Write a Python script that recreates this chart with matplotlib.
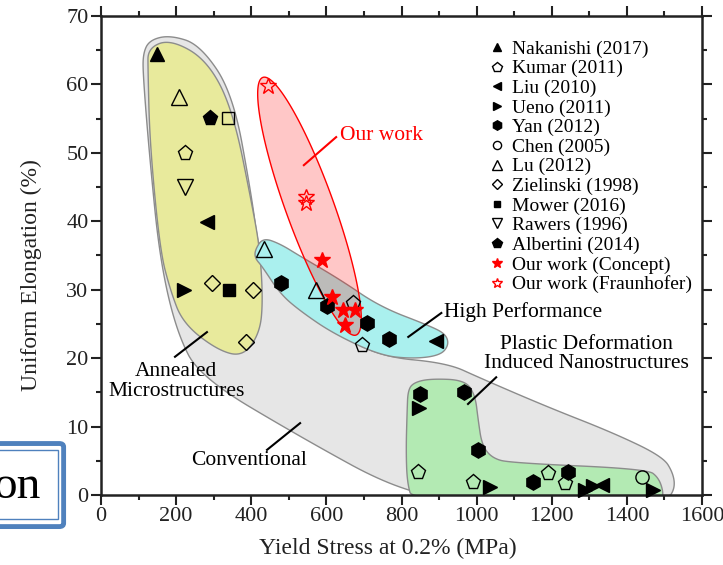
import numpy as np
import matplotlib
matplotlib.use('Agg')
import matplotlib.pyplot as plt
from matplotlib.patches import Polygon, FancyBboxPatch

plt.rcParams['font.family'] = ['Liberation Serif', 'DejaVu Serif']

# data points (yield stress MPa, uniform elongation %)
nakanishi = [(150, 64.5)]
kumar = [(224, 50.0), (671, 28.0), (695, 21.9), (843, 3.3), (991, 1.9), (1191, 3.2), (1235, 1.8)]
liu = [(282, 39.9), (893, 22.5), (1335, 1.5)]
ueno = [(221, 30.0), (847, 12.7), (1036, 1.1), (1289, 0.7), (1310, 1.3), (1470, 0.7)]
yan = [(479, 31.0), (602, 27.6), (709, 25.2), (768, 22.8), (849, 14.8), (967, 15.0), (1004, 6.6), (1150, 1.9), (1242, 3.4)]
chen = [(1440, 2.7)]
lu = [(208, 58.2), (434, 36.0), (572, 30.0)]
zielinski = [(296, 31.0), (405, 30.0), (386, 22.4)]
mower = [(341, 30.0)]
unlisted_square = [(338, 55.1)]
rawers = [(224, 45.0)]
albertini = [(290, 55.1)]
concept = [(588, 34.4), (614, 29.0), (645, 27.0), (675, 27.0), (650, 24.9)]
fraunhofer = [(444, 59.7), (545, 43.6), (545, 42.6)]

# region outlines (data coords, smoothed later)
conventional = [(112, 64.6), (130, 66.5), (184, 67.2), (264, 65.8), (351, 58.7), (400, 44), (418, 36.5),
                (437, 34.0), (530, 27.5), (618, 24.0), (743, 20.2), (921, 19.3), (1009, 17.1), (1187, 12.9),
                (1363, 9.1), (1496, 5.6), (1523, 3.2), (1528, 1.0), (1507, -0.8), (1000, -1.0), (796, 0.5),
                (530, 8.5), (264, 17.2), (202, 23.7), (157, 34.3), (130, 49), (112, 61.3)]
annealed = [(125, 65.3), (184, 66.6), (282, 63.6), (351, 56.3), (405, 41.6), (423, 35.8), (431, 28.5),
            (423, 23.7), (378, 20.2), (309, 21.2), (218, 25.1), (184, 30.0), (157, 35.8), (130, 51.4), (125, 62.1)]
high_perf = [(410, 35.8), (431, 37.6), (477, 36.7), (530, 34.9), (636, 31.5), (743, 27.5), (876, 24.7),
             (918, 23.5), (926, 21.9), (903, 20.4), (831, 19.9), (743, 20.4), (618, 23.6), (530, 26.9),
             (477, 29.4), (429, 33.4), (410, 34.6)]
plastic = [(831, 16.4), (876, 17.0), (969, 16.8), (996, 14.6), (1004, 11.0), (1014, 7.3), (1041, 5.4),
           (1089, 4.7), (1454, 3.8), (1485, 2.5), (1498, 0.2), (1490, -1.0), (830, -1.0), (815, 1.8),
           (812, 6.6), (815, 12.4), (817, 15.2)]


def chaikin(pts, n=4):
    p = np.asarray(pts, float)
    for _ in range(n):
        q = np.roll(p, -1, axis=0)
        p = np.column_stack([0.75 * p + 0.25 * q, 0.25 * p + 0.75 * q]).reshape(-1, 2)
    return p


fig = plt.figure(figsize=(7.23, 5.65), dpi=100)
ax = fig.add_axes([0.1397, 0.1239, 0.8313, 0.8478])
ax.set_xlim(0, 1600)
ax.set_ylim(0, 70)

edge = '#8c8c8c'
ax.add_patch(Polygon(chaikin(conventional), closed=True, fc='#e6e6e6', ec=edge, lw=1.0, zorder=1))
ax.add_patch(Polygon(chaikin(annealed), closed=True, fc='#e8ea9c', ec=edge, lw=1.0, zorder=2))
ax.add_patch(Polygon(chaikin(high_perf), closed=True, fc='#aaf0ee', ec=edge, lw=1.0, zorder=2))
ax.add_patch(Polygon(chaikin(plastic), closed=True, fc='#b3eab3', ec=edge, lw=1.0, zorder=2))

# "Our work" ellipse, built in display space so it stays a true ellipse
c = ax.transData.transform((555, 42.2))
t = np.linspace(0, 2 * np.pi, 200)
ang = np.deg2rad(109.9)
u, v = 137 * np.cos(t), 24 * np.sin(t)
xy = np.column_stack([c[0] + u * np.cos(ang) - v * np.sin(ang), c[1] + u * np.sin(ang) + v * np.cos(ang)])
ell = ax.transData.inverted().transform(xy)
ax.add_patch(Polygon(ell, closed=True, fc=(1, 0, 0, 0.22), ec='red', lw=1.0, zorder=3))

series = [
    (nakanishi, 'Nakanishi (2017)', '^', 'k', 'k', 10),
    (kumar, 'Kumar (2011)', 'p', 'none', 'k', 11),
    (liu, 'Liu (2010)', '<', 'k', 'k', 10),
    (ueno, 'Ueno (2011)', '>', 'k', 'k', 10),
    (yan, 'Yan (2012)', 'h', 'k', 'k', 11),
    (chen, 'Chen (2005)', 'o', 'none', 'k', 9.5),
    (lu, 'Lu (2012)', '^', 'none', 'k', 11),
    (zielinski, 'Zielinski (1998)', 'D', 'none', 'k', 8),
    (mower, 'Mower (2016)', 's', 'k', 'k', 8),
    (rawers, 'Rawers (1996)', 'v', 'none', 'k', 11),
    (albertini, 'Albertini (2014)', 'p', 'k', 'k', 11),
    (concept, 'Our work (Concept)', '*', 'red', 'red', 12),
    (fraunhofer, 'Our work (Fraunhofer)', '*', 'none', 'red', 12),
]
for pts, label, m, fc, ec, ms in series:
    x, y = zip(*pts)
    ax.plot(x, y, ls='none', marker=m, mfc=fc, mec=ec, ms=ms, mew=1.0, label=label, zorder=5,
            clip_on=False)
x, y = zip(*unlisted_square)
ax.plot(x, y, ls='none', marker='s', mfc='none', mec='k', ms=8.5, mew=1.0, zorder=5)

leg = ax.legend(loc='upper right', frameon=False, fontsize=14, markerscale=0.62, handlelength=0.8,
                handletextpad=0.4, labelspacing=0.1, borderaxespad=0.1, bbox_to_anchor=(1.0, 0.97))

# labels and leader lines
fs = 15.5
ax.plot([540, 626], [48.2, 52.3], color='red', lw=1.5, zorder=6)
ax.text(636, 52.6, 'Our work', color='red', fontsize=fs, va='center', ha='left', zorder=6)
ax.plot([818, 906], [23.1, 26.6], color='k', lw=1.5, zorder=6)
ax.text(913, 26.8, 'High Performance', fontsize=fs, va='center', ha='left', zorder=6)
ax.plot([977, 1052], [13.3, 17.2], color='k', lw=1.5, zorder=6)
ax.text(1292, 20.6, 'Plastic Deformation\nInduced Nanostructures', fontsize=fs, va='center', ha='center',
        linespacing=1.0, zorder=6)
ax.plot([197, 282], [20.2, 23.8], color='k', lw=1.5, zorder=6)
ax.text(200, 16.6, 'Annealed\nMicrostructures', fontsize=fs, va='center', ha='center', linespacing=1.1,
        zorder=6)
ax.plot([442, 530], [6.6, 10.5], color='k', lw=1.5, zorder=6)
ax.text(394, 5.0, 'Conventional', fontsize=fs, va='center', ha='center', zorder=6)

ax.set_xticks(np.arange(0, 1601, 200))
ax.set_xticks(np.arange(0, 1601, 100), minor=True)
ax.set_yticks(np.arange(0, 71, 10))
ax.set_yticks(np.arange(0, 71, 5), minor=True)
ax.tick_params(which='both', direction='out', top=True, right=True, colors='#222222', width=1.5,
               labelsize=16, pad=2)
ax.tick_params(which='major', length=7)
ax.tick_params(which='minor', length=3.5)
for s in ax.spines.values():
    s.set_linewidth(1.8)
    s.set_color('#222222')
ax.set_xlabel('Yield Stress at 0.2% (MPa)', fontsize=17, color='#222222')
ax.set_ylabel('Uniform Elongation (%)', fontsize=17, color='#222222')
ax.xaxis.set_label_coords(0.478, -0.09)
ax.yaxis.set_label_coords(-0.098, 0.459)

# overlapping caption box fragment at lower left
fig.patches.append(FancyBboxPatch((-0.02, 0.068), 0.108, 0.147, boxstyle='round,pad=0,rounding_size=0.006',
                                  transform=fig.transFigure, fc='white', ec='#4f81bd', lw=3.5, zorder=10))
fig.patches.append(FancyBboxPatch((-0.02, 0.081), 0.1, 0.122, boxstyle='square,pad=0',
                                  transform=fig.transFigure, fc='none', ec='#4f81bd', lw=1.0, zorder=11))
fig.text(0.056, 0.138, 'on', fontsize=34, ha='right', va='center', zorder=12)

fig.savefig('out.png', dpi=100)
